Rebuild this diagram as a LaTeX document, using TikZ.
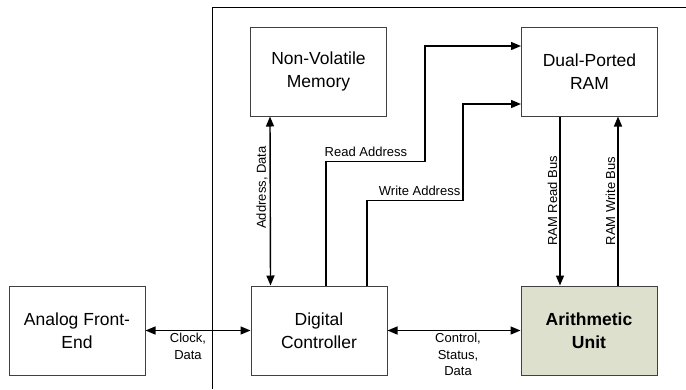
\documentclass[tikz,border=0pt]{standalone}
\usepackage{fontspec}
\setmainfont{Liberation Sans}
\usetikzlibrary{arrows.meta}
\definecolor{aufill}{RGB}{221,224,204}

\begin{document}
\begin{tikzpicture}[
		x=1pt, y=-1pt,
		>={Triangle[length=10pt,width=8pt]},
		block/.style={draw=black!75, line width=1pt, minimum width=136pt,
			minimum height=89pt, inner sep=0pt, align=center,
			font=\fontsize{17.5}{23}\selectfont},
		bus/.style={line width=1.4pt},
		lbl/.style={font=\fontsize{13}{16.5}\selectfont, align=center, inner sep=2pt},
		vlbl/.style={lbl, rotate=90, anchor=south}
	]
		\useasboundingbox (0,0) rectangle (686,389);

		% board outline
		\draw[line width=1pt] (212,389) -- (212,7) -- (686,7);

		% blocks
		\node[block] (afe) at (77,330.5) {Analog Front-\\End};
		\node[block] (dc) at (319,330.5) {Digital\\Controller};
		\node[block, fill=aufill, font=\fontsize{17.5}{23}\selectfont\bfseries] (au) at (589,330.5) {Arithmetic\\Unit};
		\node[block] (nvm) at (318.5,71.5) {Non-Volatile\\Memory};
		\node[block] (ram) at (589.5,71.5) {Dual-Ported\\RAM};

		% horizontal links
		\draw[bus,<->] (afe) -- (dc) node[lbl, below, midway, xshift=-10pt] {Clock,\\Data};
		\draw[bus,<->] (dc) -- (au) node[lbl, below, midway, xshift=4pt] {Control,\\Status,\\Data};

		% memory side
		\draw[bus,<->] ([xshift=20pt]dc.north west) -- ([xshift=20pt]nvm.south west)
			node[vlbl, pos=0.58] {Address, Data};
		\draw[bus,->] ([xshift=7pt]dc.north) -- ++(0,-124)
			node[lbl, above right, xshift=-4pt, yshift=2pt] {Read Address}
			-- ++(99,0) |- ([yshift=25.5pt]ram.west);
		\draw[bus,->] ([xshift=48pt]dc.north) -- ++(0,-85) -- ++(96,0)
			node[lbl, above left, yshift=2pt] {Write Address}
			|- ([yshift=-32.5pt]ram.west);

		% RAM buses
		\draw[bus,<-] ([xshift=-29pt]au.north) -- ([xshift=-29.5pt]ram.south)
			node[vlbl, midway] {RAM Read Bus};
		\draw[bus,->] ([xshift=29pt]au.north) -- ([xshift=28.5pt]ram.south)
			node[vlbl, midway] {RAM Write Bus};
\end{tikzpicture}
\end{document}
